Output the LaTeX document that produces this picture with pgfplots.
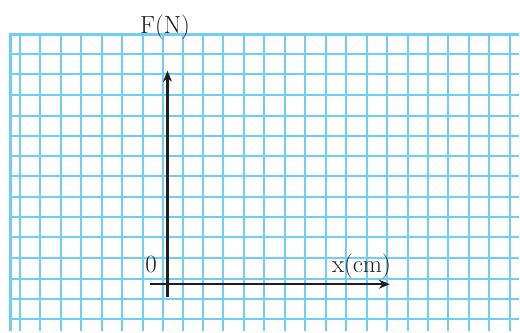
\documentclass[border=0pt]{standalone}
\usepackage{fontspec}
\usepackage{pgfplots}
\pgfplotsset{compat=1.18}
\usetikzlibrary{arrows.meta}
\definecolor{gridc}{RGB}{112,206,245}
\definecolor{axc}{RGB}{30,30,30}
\begin{document}
\begin{tikzpicture}
\begin{axis}[
  x=1bp, y=1bp, xmin=0, xmax=520, ymin=0, ymax=332,
  hide axis, clip=false, unbounded coords=jump,
]
\path (axis cs:0,0) rectangle (axis cs:520,332);
% vertical grid lines
\addplot[gridc, line width=2bp] coordinates {
(20,0) (20,297) (20,nan)
(40,0) (40,297) (40,nan)
(61,0) (61,297) (61,nan)
(81,0) (81,297) (81,nan)
(102,0) (102,297) (102,nan)
(122,0) (122,297) (122,nan)
(143,0) (143,297) (143,nan)
(163,0) (163,297) (163,nan)
(184,0) (184,297) (184,nan)
(204,0) (204,297) (204,nan)
(224,0) (224,297) (224,nan)
(245,0) (245,297) (245,nan)
(265,0) (265,297) (265,nan)
(286,0) (286,297) (286,nan)
(306,0) (306,297) (306,nan)
(327,0) (327,297) (327,nan)
(347,0) (347,297) (347,nan)
(368,0) (368,297) (368,nan)
(388,0) (388,297) (388,nan)
(409,0) (409,297) (409,nan)
(429,0) (429,297) (429,nan)
(449,0) (449,297) (449,nan)
(470,0) (470,297) (470,nan)
(490,0) (490,297) (490,nan)
(511,0) (511,297)
};
% horizontal grid lines
\addplot[gridc, line width=2bp] coordinates {
(11,278) (520,278) (520,nan)
(11,258) (520,258) (520,nan)
(11,237) (520,237) (520,nan)
(11,216) (520,216) (520,nan)
(11,196) (520,196) (520,nan)
(11,176) (520,176) (520,nan)
(11,155) (520,155) (520,nan)
(11,134) (520,134) (520,nan)
(11,114) (520,114) (520,nan)
(11,94) (520,94) (520,nan)
(11,73) (520,73) (520,nan)
(11,52) (520,52) (520,nan)
(11,32) (520,32) (520,nan)
(11,12) (520,12)
};
% border
\addplot[gridc, line width=3bp] coordinates {(11,0) (11,297) (520,297)};
% axes
\addplot[axc, line width=2.4bp, -{Stealth[length=11bp,width=9bp]}] coordinates {(168,34) (168,261)};
\addplot[axc, line width=2.4bp, -{Stealth[length=11bp,width=9bp]}] coordinates {(150,47) (391,47)};
\node[text=axc, font=\fontsize{25}{28}\selectfont, inner sep=0pt] at (axis cs:165.5,304.5) {F(N)};
\node[text=axc, font=\fontsize{25}{28}\selectfont, inner sep=0pt] at (axis cs:151.5,67) {0};
\node[text=axc, font=\fontsize{25}{28}\selectfont, inner sep=0pt] at (axis cs:362.5,64.5) {x(cm)};
\end{axis}
\end{tikzpicture}
\end{document}
